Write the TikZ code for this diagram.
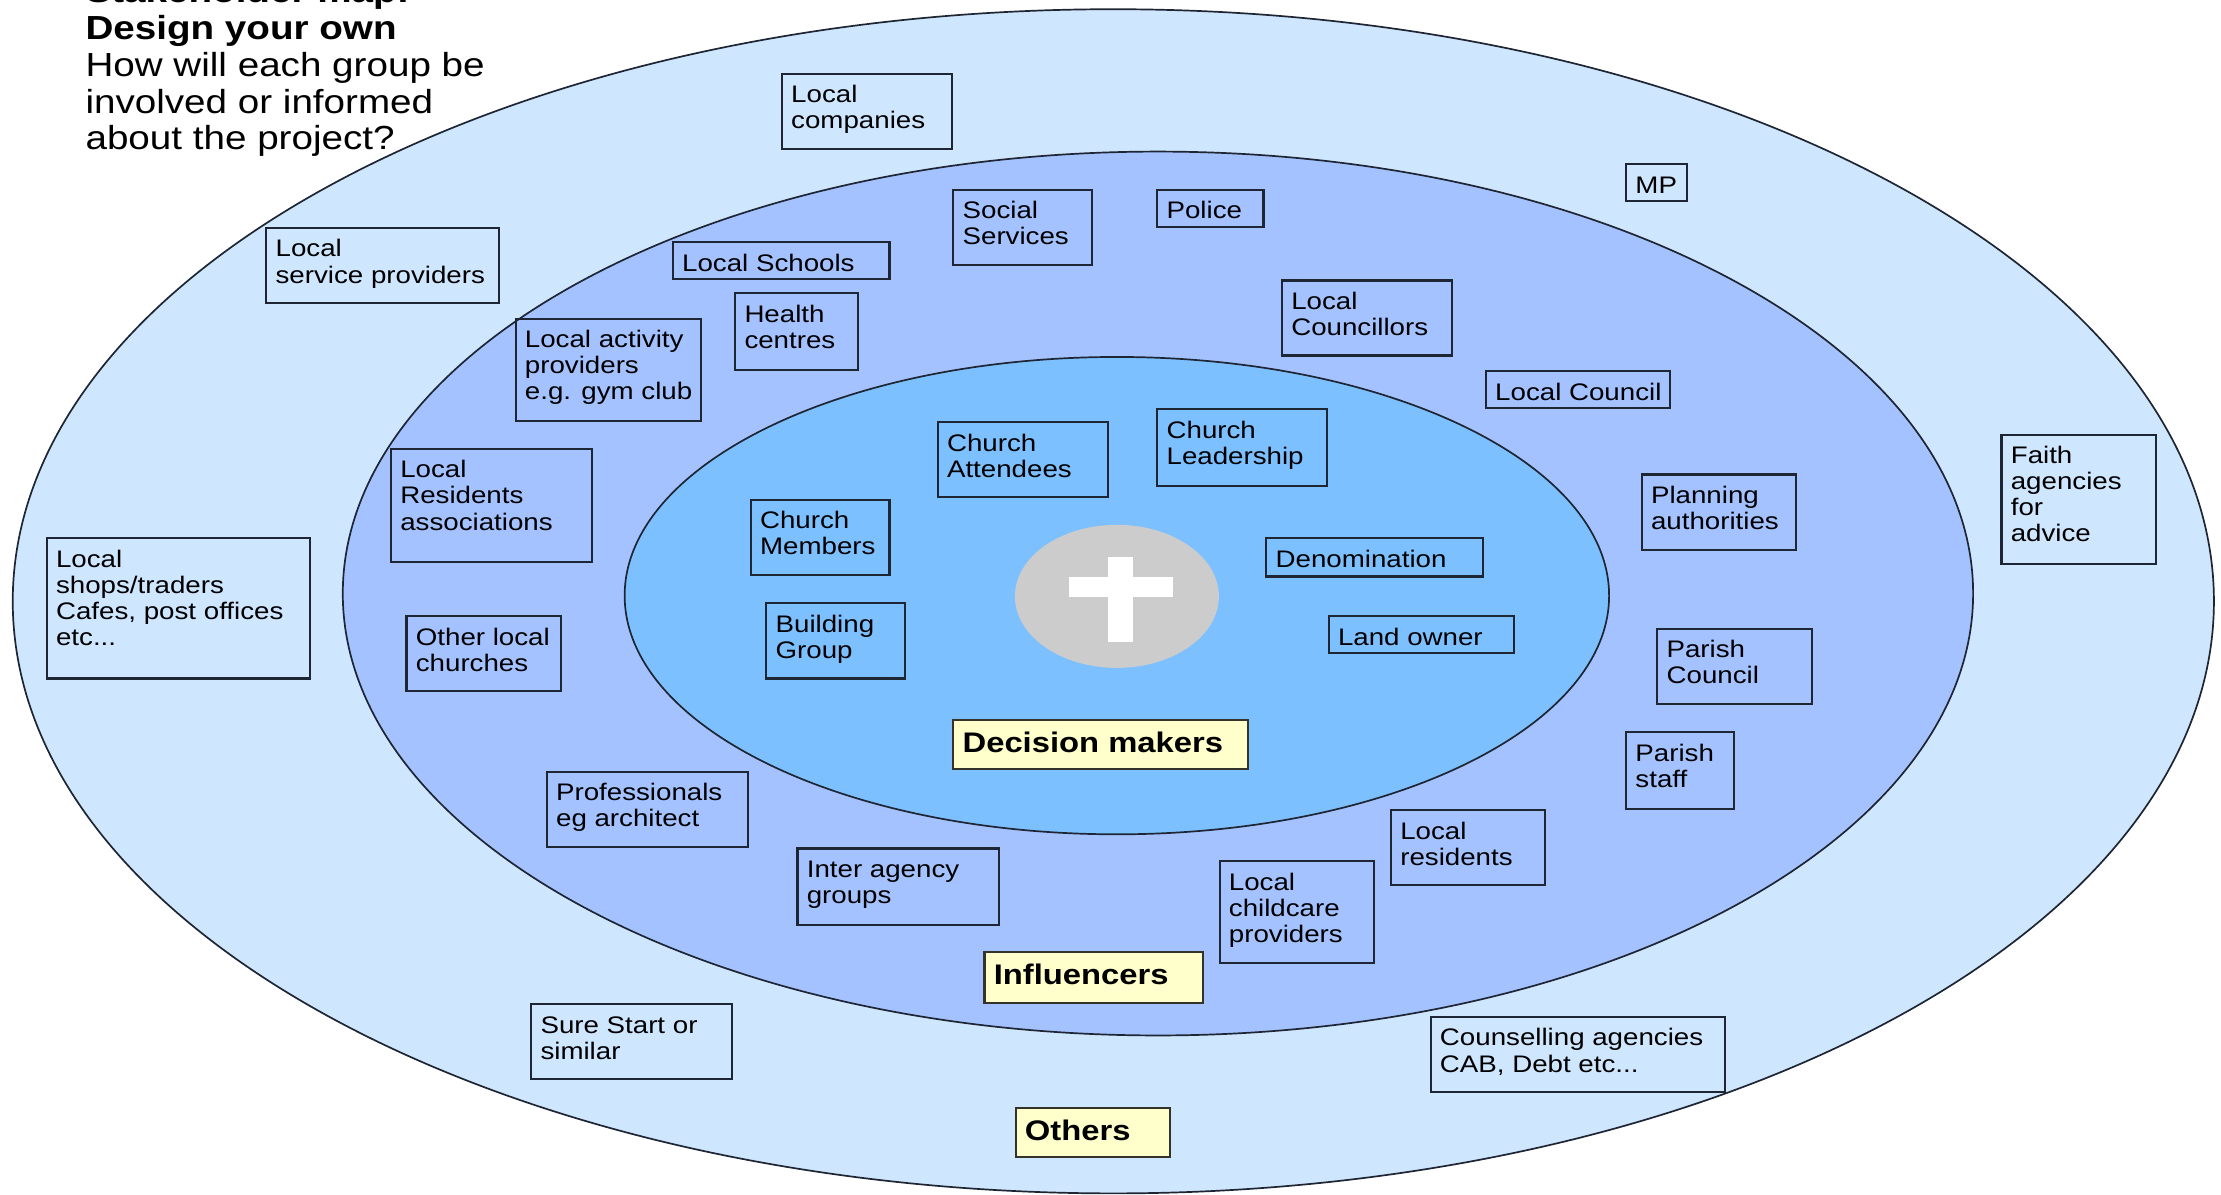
\documentclass[tikz,border=0pt]{standalone}
\usepackage{fontspec}
\setmainfont[FakeStretch=1.157]{Liberation Sans}
\definecolor{outerc}{HTML}{CFE6FF}
\definecolor{midc}{HTML}{A3C2FF}
\definecolor{innerc}{HTML}{7DC0FF}
\definecolor{greyc}{HTML}{CCCCCC}
\definecolor{yelc}{HTML}{FFFFCC}
\definecolor{linec}{HTML}{1E2533}
\tikzset{
  ring/.style={draw=linec,line width=0.6pt},
  cardbox/.style={draw=linec,line width=0.75pt,inner sep=0pt,outer sep=0pt,anchor=north west},
  keybox/.style={cardbox,fill=yelc,draw=black!80!yelc},
}
\newcommand{\cardtext}[5]{%
  \parbox[c][#2pt][t]{#1pt}{\raggedright\leftskip=3.3pt\parindent=0pt
  \fontsize{#3}{9.2}\selectfont\baselineskip=9.2pt\lineskip=0pt\lineskiplimit=-10pt
  \rule{0pt}{#4pt}#5}}
\newcommand{\bx}[6]{%
  \pgfmathsetmacro{\bw}{0.5*(#4-#2)}\pgfmathsetmacro{\bh}{0.5*(#5-#3)}%
  \node[cardbox] (#1) at (#2,#3) {\cardtext{\bw}{\bh}{8.45}{10.2}{#6}};}
\newcommand{\kx}[6]{%
  \pgfmathsetmacro{\bw}{0.5*(#4-#2)}\pgfmathsetmacro{\bh}{0.5*(#5-#3)}%
  \node[keybox] (#1) at (#2,#3) {\cardtext{\bw}{\bh}{10}{11.6}{\bfseries #6}};}
\begin{document}
\begin{tikzpicture}[x=0.5pt,y=-0.5pt]
\useasboundingbox (0,0) rectangle (1568,843);
\draw[ring,fill=outerc] (786,424.5) ellipse [x radius=777,y radius=418];
\draw[ring,fill=midc] (817.5,419) ellipse [x radius=575.5,y radius=312];
\draw[ring,fill=innerc] (788.5,420.5) ellipse [x radius=347.5,y radius=168.5];
\fill[greyc] (788.5,421) ellipse [x radius=72,y radius=50.5];
\fill[white] (782,393) rectangle (800,453);
\fill[white] (755,407) rectangle (828,421.5);
\node[anchor=base west,inner sep=0pt] (title) at (60,1.8) {\parbox[t]{300pt}{\parindent=0pt\fontsize{11.78}{13}\selectfont
  {\bfseries Stakeholder map:\\Design your own}\\How will each group be\\involved or informed\\about the project?}};
\bx{a1}{552}{52}{672}{105}{Local\\companies}
\bx{a2}{1148}{116}{1191}{142}{MP}
\bx{a3}{673}{134}{771}{187}{Social\\Services}
\bx{a4}{817}{134}{892}{160}{Police}
\bx{a5}{475}{171}{628}{197}{Local Schools}
\bx{a6}{188}{161}{352}{214}{Local\\service providers}
\bx{a7}{519}{207}{606}{261}{Health\\centres}
\bx{a8}{905}{198}{1025}{251}{Local\\Councillors}
\bx{a9}{364}{225}{495}{297}{Local activity\\providers\\e.g. gym club}
\bx{a10}{1049}{262}{1179}{288}{Local Council}
\bx{a11}{276}{317}{418}{397}{Local\\Residents\\associations}
\bx{a12}{1159}{335}{1268}{388}{Planning\\authorities}
\bx{a13}{1413}{307}{1522}{398}{Faith\\agencies\\for\\advice}
\bx{a14}{662}{298}{782}{351}{Church\\Attendees}
\bx{a15}{817}{289}{937}{343}{Church\\Leadership}
\bx{a16}{530}{353}{628}{406}{Church\\Members}
\bx{a17}{894}{380}{1047}{407}{Denomination}
\bx{a18}{541}{426}{639}{479}{Building\\Group}
\bx{a19}{938}{435}{1069}{461}{Land owner}
\bx{a20}{33}{380}{219}{479}{Local\\shops/traders\\Cafes, post offices\\etc...}
\bx{a21}{287}{435}{396}{488}{Other local\\churches}
\bx{a22}{1170}{444}{1279}{497}{Parish\\Council}
\bx{a23}{1148}{517}{1224}{571}{Parish\\staff}
\bx{a24}{386}{545}{528}{598}{Professionals\\eg architect}
\bx{a25}{982}{572}{1091}{625}{Local\\residents}
\bx{a26}{563}{599}{705}{653}{Inter agency\\groups}
\bx{a27}{861}{608}{970}{680}{Local\\childcare\\providers}
\bx{a28}{375}{709}{517}{762}{Sure Start or\\similar}
\bx{a29}{1010}{718}{1218}{771}{Counselling agencies\\CAB, Debt etc...}
\kx{k1}{673}{508}{881}{543}{Decision makers}
\kx{k2}{695}{672}{849}{708}{Influencers}
\kx{k3}{717}{782}{826}{817}{Others}
\end{tikzpicture}
\end{document}
